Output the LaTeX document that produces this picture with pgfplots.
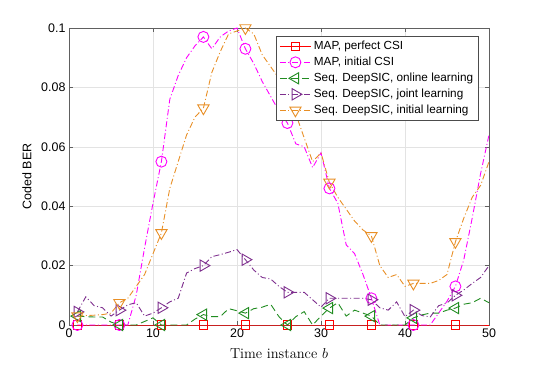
\documentclass[border=0pt]{standalone}
\usepackage{pgfplots}
\pgfplotsset{compat=1.18}
\usepackage{pgfplotstable}
\usepackage{fontspec}
\newfontfamily\arial{Liberation Sans}

\definecolor{cred}{rgb}{1,0,0}
\definecolor{cmag}{rgb}{1,0,1}
\definecolor{cgreen}{rgb}{0.13,0.55,0.13}
\definecolor{cpurple}{rgb}{0.494,0.184,0.556}
\definecolor{corange}{rgb}{0.91,0.56,0.15}

% coded BER per time instance
\pgfplotstableread{
t  perfect initcsi online joint  initlearn
1  0       0       0.0030 0.0044 0.0030
2  0       0       0.0028 0.0095 0.0032
3  0       0       0.0027 0.0065 0.0033
4  0       0       0.0027 0.0058 0.0035
5  0       0       0.0010 0.0030 0.0040
6  0       0       0      0.0050 0.0075
7  0       0       0      0.0068 0.0090
8  0       0.010   0      0.0075 0.0130
9  0       0.026   0.0012 0.0030 0.0170
10 0       0.041   0.0024 0.0040 0.0240
11 0       0.055   0      0.0058 0.0310
12 0       0.076   0      0.0078 0.0460
13 0       0.084   0      0.0090 0.0550
14 0       0.090   0      0.0175 0.0640
15 0       0.094   0.0020 0.0190 0.0700
16 0       0.097   0.0035 0.0200 0.0730
17 0       0.093   0.0028 0.0230 0.0850
18 0       0.097   0.0028 0.0237 0.0920
19 0       0.099   0.0055 0.0245 0.0980
20 0       0.100   0.0048 0.0254 0.0990
21 0       0.093   0.0040 0.0220 0.1000
22 0       0.088   0.0055 0.0185 0.0980
23 0       0.082   0.0060 0.0160 0.0910
24 0       0.077   0.0070 0.0155 0.0870
25 0       0.072   0.0028 0.0130 0.0830
26 0       0.068   0      0.0110 0.0770
27 0       0.061   0.0028 0.0110 0.0710
28 0       0.060   0.0045 0.0110 0.0630
29 0       0.053   0      0.0085 0.0550
30 0       0.058   0.0030 0.0060 0.0580
31 0       0.046   0.0057 0.0090 0.0480
32 0       0.041   0.0075 0.0090 0.0430
33 0       0.027   0.0030 0.0090 0.0390
34 0       0.024   0.0050 0.0090 0.0350
35 0       0.017   0.0040 0.0090 0.0320
36 0       0.009   0.0030 0.0085 0.0300
37 0       0       0      0.0058 0.0200
38 0       0       0      0.0050 0.0160
39 0       0       0      0.0078 0.0170
40 0       0       0      0.0028 0.0130
41 0       0       0.0024 0.0050 0.0140
42 0       0       0.0034 0.0032 0.0140
43 0       0       0.0040 0.0027 0.0140
44 0       0.004   0.0040 0.0065 0.0150
45 0       0.008   0.0050 0.0074 0.0170
46 0       0.013   0.0057 0.0100 0.0280
47 0       0.022   0.0070 0.0118 0.0360
48 0       0.036   0.0075 0.0140 0.0430
49 0       0.051   0.0090 0.0160 0.0470
50 0       0.064   0.0075 0.0200 0.0550
}\bertable

\begin{document}
\begin{tikzpicture}
\begin{axis}[
    scale only axis,
    width=420bp, height=297bp,
    xmin=0, xmax=50, ymin=0, ymax=0.1,
    xtick={0,10,20,30,40,50},
    ytick={0,0.02,0.04,0.06,0.08,0.1},
    scaled y ticks=false,
    yticklabel style={/pgf/number format/fixed, /pgf/number format/precision=2},
    /pgf/number format/assume math mode=true,
    tick label style={font=\arial\fontsize{12.5}{14}\selectfont},
    grid=major,
    grid style={gray!22, line width=0.5bp},
    axis line style={gray!75!black, line width=0.6bp},
    tick style={gray!75!black, line width=0.6bp},
    tick align=inside,
    major tick length=4bp,
    xlabel={Time instance $b$},
    xlabel style={font=\fontsize{14.5}{16}\selectfont, at={(axis description cs:0.5,-0.114)}, anchor=base},
    ylabel={Coded BER},
    ylabel style={font=\arial\fontsize{12.5}{14}\selectfont, at={(axis description cs:-0.1,0.5)}, anchor=center},
    legend cell align=left,
    legend style={at={(0.976,0.973)}, anchor=north east, fill=white, draw=gray!60!black,
        line width=0.6bp, font=\arial\fontsize{11.8}{13}\selectfont,
        nodes={text height=8.5bp, text depth=2.5bp, inner sep=2.5bp}},
    legend image code/.code={\draw[mark repeat=2, mark phase=2, #1] plot coordinates {(0bp,0bp) (15.5bp,0bp) (31bp,0bp)};},
    every axis plot/.append style={line width=0.9bp, mark repeat=5, mark phase=1},
]
\addplot[cred, solid, mark=square, mark size=4.2bp, mark options={solid}] table[x=t, y=perfect] {\bertable};
\addlegendentry{MAP, perfect CSI}
\addplot[cmag, dash pattern=on 6bp off 2.5bp on 1bp off 2.5bp, mark=o, mark size=5.5bp, mark options={solid}] table[x=t, y=initcsi] {\bertable};
\addlegendentry{MAP, initial CSI}
\addplot[cgreen, dash pattern=on 7bp off 4bp, mark=triangle, mark size=6.5bp, mark options={solid, rotate=90}] table[x=t, y=online] {\bertable};
\addlegendentry{Seq. DeepSIC, online learning}
\addplot[cpurple, dash pattern=on 6bp off 2.5bp on 1bp off 2.5bp, mark=triangle, mark size=6.5bp, mark options={solid, rotate=-90}] table[x=t, y=joint] {\bertable};
\addlegendentry{Seq. DeepSIC, joint learning}
\addplot[corange, dash pattern=on 6bp off 2.5bp on 1bp off 2.5bp, mark=triangle, mark size=6.5bp, mark options={solid, rotate=180}] table[x=t, y=initlearn] {\bertable};
\addlegendentry{Seq. DeepSIC, initial learning}
\coordinate (ll) at (rel axis cs:0,0);
\coordinate (ur) at (rel axis cs:1,1);
\end{axis}
\pgfresetboundingbox
\path[use as bounding box] ([xshift=-69bp,yshift=-40bp]ll) rectangle ([xshift=51bp,yshift=28bp]ur);
\end{tikzpicture}
\end{document}
